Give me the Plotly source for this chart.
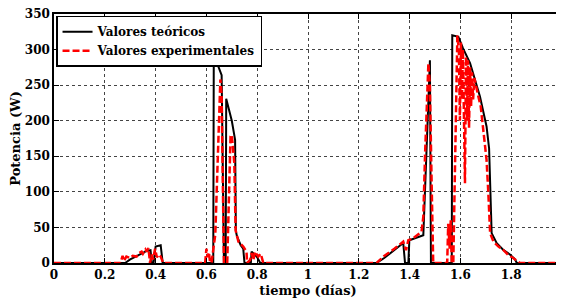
import plotly.graph_objects as go

theo_x = [0, 0.28, 0.30, 0.339, 0.365, 0.38, 0.385, 0.392, 0.40, 0.42, 0.428,
          0.627, 0.629, 0.645, 0.66, 0.669, 0.676, 0.678, 0.70, 0.713, 0.716, 0.72, 0.735, 0.745, 0.75,
          0.775, 0.778, 0.79, 0.80, 0.812,
          1.27, 1.30, 1.34, 1.375, 1.382, 1.395, 1.399, 1.42, 1.454, 1.48, 1.484,
          1.566, 1.568, 1.592, 1.61, 1.638, 1.677, 1.703, 1.713, 1.723, 1.743, 1.77, 1.795, 1.815, 1.822, 2.0]
theo_y = [0, 0, 5, 12.6, 17, 18, 0, 0, 23, 25, 0,
          0, 288, 278, 264, 0, 0, 231, 200, 173, 45, 38, 25, 20, 0,
          0, 16, 12, 8, 0,
          0, 7, 18, 28, 0, 0, 32, 35, 39, 285, 0,
          0, 320, 318, 302, 281, 234, 192, 161, 42, 28, 18, 12, 5, 0, 0]

exp_x = [0, 0.262, 0.27, 0.275, 0.285, 0.30, 0.31, 0.325, 0.335, 0.345, 0.35, 0.36, 0.365, 0.372, 0.378,
         0.385, 0.39, 0.398, 0.405, 0.412, 0.42, 0.43,
         0.595, 0.60, 0.605, 0.61, 0.614, 0.62, 0.635, 0.645, 0.655, 0.66, 0.669,
         0.682, 0.695, 0.70, 0.71, 0.715, 0.726, 0.745, 0.758, 0.76,
         0.772, 0.778, 0.785, 0.791, 0.804, 0.814, 0.824,
         1.27, 1.30, 1.34, 1.375, 1.386, 1.395, 1.415, 1.447, 1.454, 1.461, 1.474, 1.48, 1.487, 1.493,
         1.548, 1.552, 1.558, 1.562, 1.566, 1.572, 1.580, 1.588,
         1.594, 1.598, 1.602, 1.606, 1.61, 1.614, 1.618, 1.622, 1.626, 1.63, 1.634, 1.638, 1.642,
         1.646, 1.65, 1.655, 1.66, 1.67, 1.68, 1.69, 1.703, 1.71, 1.717, 1.73, 1.75, 1.77, 1.789,
         1.808, 1.828, 1.835, 2.0]
exp_y = [0, 0, 10, 3, 9, 7, 10, 9, 14, 16, 13, 19, 16, 21, 0,
         12, 5, 20, 8, 12, 9, 0,
         0, 20, 8, 15, 2, 0, 40, 150, 258, 234, 0,
         0, 178, 180, 140, 46, 30, 23, 16, 0,
         4, 14, 4, 16, 9, 13, 0,
         0, 10, 20, 30, 18, 32, 35, 44, 65, 154, 281, 248, 107, 0,
         0, 55, 20, 60, 0, 0, 160, 320,
         300, 200, 310, 230, 300, 180, 112, 290, 200, 285, 190, 275, 220,
         268, 230, 260, 250, 235, 220, 187, 145, 98, 42, 30, 23, 18, 11,
         7, 1, 0, 0]

FONT = "DejaVu Serif"

fig = go.Figure()
fig.add_trace(go.Scatter(x=theo_x, y=theo_y, mode="lines", name="Valores teóricos",
                         line=dict(color="black", width=2)))
fig.add_trace(go.Scatter(x=exp_x, y=exp_y, mode="lines", name="Valores experimentales",
                         line=dict(color="red", width=2.5, dash="7px,3px")))

axis_common = dict(
    showline=True, linecolor="black", linewidth=1.5, mirror="ticks",
    ticks="inside", ticklen=5, tickcolor="black", tickwidth=1,
    showgrid=True, gridcolor="#444", gridwidth=1, griddash="dot",
    zeroline=False, automargin=False, ticklabeloverflow="allow",
    tickfont=dict(family=FONT, size=12, color="black", weight="bold"),
)

# the page body keeps its default 8px margin, so margins are reduced by 8px
fig.update_layout(
    width=556, height=293,
    margin=dict(l=46, r=2, t=6, b=38),
    paper_bgcolor="white", plot_bgcolor="white",
    font=dict(family=FONT, color="black"),
    xaxis=dict(range=[0, 2], dtick=0.2, tick0=0,
               title=dict(text="tiempo (días)", standoff=5,
                          font=dict(family=FONT, size=13, color="black", weight="bold")),
               **axis_common),
    yaxis=dict(range=[0, 350], dtick=50, tick0=0,
               title=dict(text="Potencia (W)", standoff=6,
                          font=dict(family=FONT, size=13, color="black", weight="bold")),
               **axis_common),
    legend=dict(x=0.004, y=0.993, xanchor="left", yanchor="top",
                bgcolor="white", bordercolor="black", borderwidth=1.5,
                font=dict(family=FONT, size=12, color="black", weight="bold"),
                itemwidth=30, tracegroupgap=0),
    showlegend=True,
)

fig.write_html("out.html")
